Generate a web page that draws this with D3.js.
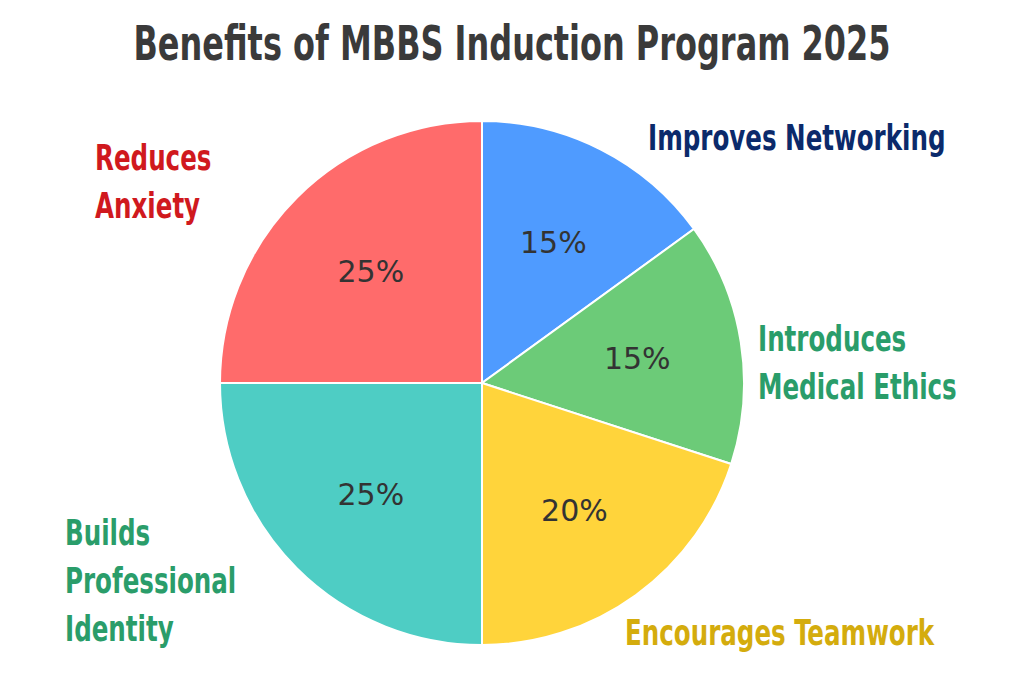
<!DOCTYPE html>
<html><head><meta charset="utf-8">
<script src="https://cdn.jsdelivr.net/npm/d3@7"></script>
<style>body{margin:0;background:#fff}</style>
</head><body><div id="chart"></div>
<script>
const categories = ["Improves Networking", "Introduces Medical Ethics", "Encourages Teamwork", "Builds Professional Identity", "Reduces Anxiety"];
const values = [15, 15, 20, 25, 25];
const colors = ["#4f9bff", "#6ccb78", "#ffd43b", "#4ecdc4", "#ff6b6b"];
const labelLines = [["Improves Networking"], ["Introduces", "Medical Ethics"], ["Encourages Teamwork"], ["Builds", "Professional", "Identity"], ["Reduces", "Anxiety"]];
const labelColors = ["#0b2a6b", "#2a9d6a", "#d4ac0d", "#2a9d6a", "#d0191e"];
const labelPos = [[648, 150], [758, 351], [625, 645], [65, 545], [95, 170]];

const W = 1024, H = 683, cx = 482, cy = 383, r = 262;
const svg = d3.select("#chart").append("svg").attr("width", W).attr("height", H);

svg.append("text").attr("transform", "translate(512,60) scale(0.74,1)").attr("text-anchor", "middle")
    .style("font-family", "'DejaVu Sans Condensed', 'DejaVu Sans'").style("font-weight", "bold")
    .style("font-size", "48px").style("fill", "#3a3a3a")
    .text("Benefits of MBBS Induction Program 2025");

const pie = d3.pie().sort(null)(values);
const arc = d3.arc().innerRadius(0).outerRadius(r);
const g = svg.append("g").attr("transform", `translate(${cx},${cy})`);

g.selectAll("path").data(pie).join("path")
    .attr("d", arc).attr("fill", (d, i) => colors[i])
    .attr("stroke", "#fff").attr("stroke-width", 2);

const inner = d3.arc().innerRadius(r * 0.6).outerRadius(r * 0.6);
g.selectAll("text.pct").data(pie).join("text")
    .attr("class", "pct")
    .attr("transform", d => `translate(${inner.centroid(d)})`)
    .attr("text-anchor", "middle").attr("dy", "0.35em")
    .style("font-family", "'DejaVu Sans'").style("font-size", "30px").style("fill", "#333")
    .text(d => d.data + "%");

labelLines.forEach((lines, i) => {
    const t = svg.append("text")
        .attr("transform", `translate(${labelPos[i][0]},${labelPos[i][1]}) scale(0.78,1)`)
        .style("font-family", "'DejaVu Sans Condensed', 'DejaVu Sans'").style("font-weight", "bold")
        .style("font-size", "35px").style("fill", labelColors[i]);
    lines.forEach((l, j) => t.append("tspan").attr("x", 0).attr("y", j * 48).text(l));
});
</script></body></html>
